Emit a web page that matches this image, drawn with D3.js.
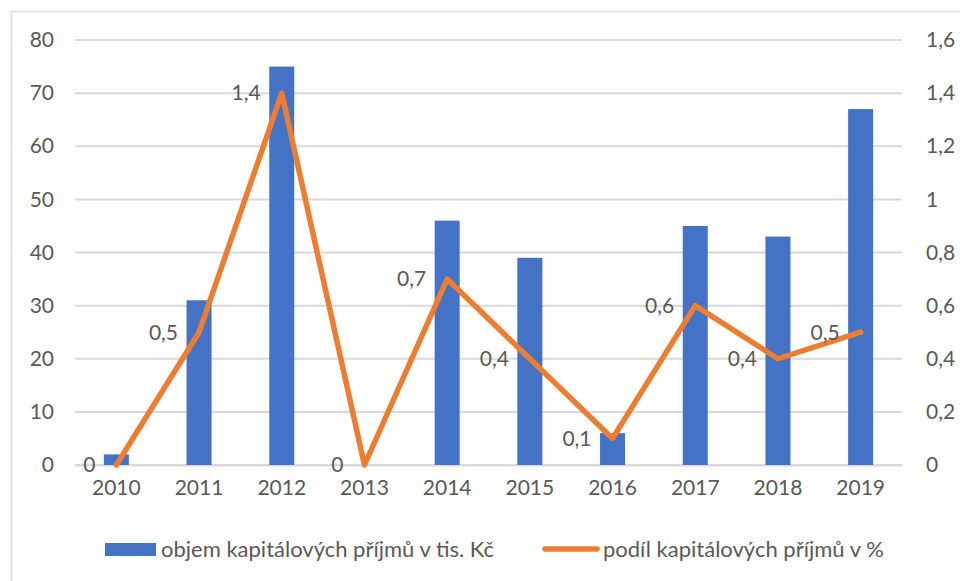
<!DOCTYPE html>
<html>
<head>
<meta charset="utf-8">
<script src="https://cdn.jsdelivr.net/npm/d3@7"></script>
<style>
  body { margin: 0; background: #fff; }
  svg text { font-family: Lato, "Open Sans", sans-serif; fill: #595959; }
</style>
</head>
<body>
<svg id="chart" width="960" height="581"></svg>
<script>
const years = ["2010", "2011", "2012", "2013", "2014", "2015", "2016", "2017", "2018", "2019"]
const volume = [2, 31, 75, 0, 46, 39, 6, 45, 43, 67]
const share = [0, 0.5, 1.4, 0, 0.7, 0.4, 0.1, 0.6, 0.4, 0.5]
const leftTicks = [0, 10, 20, 30, 40, 50, 60, 70, 80]
const rightTicks = [0, 0.2, 0.4, 0.6, 0.8, 1, 1.2, 1.4, 1.6]
const seriesNames = ["objem kapitálových příjmů v tis. Kč", "podíl kapitálových příjmů v %"]

const blue = "#4472C4",
      orange = "#ED7D31",
      grid = "#d9d9d9"

const svg = d3.select("#chart")

const margin = { left: 75, right: 58, top: 40, bottom: 116 }
const width = +svg.attr("width"),
      height = +svg.attr("height")

const fmt = d => String(d).replace(".", ",")

// frame (cut off by the screenshot at right and bottom)
svg.append("rect")
    .attr("x", 11.5).attr("y", 11.5)
    .attr("width", 1000).attr("height", 1000)
    .attr("fill", "none")
    .attr("stroke", grid)
    .attr("stroke-width", 1.5)

const x = d3.scaleBand()
    .domain(years)
    .range([margin.left, width - margin.right])

const yL = d3.scaleLinear().domain([0, 80]).range([height - margin.bottom, margin.top])
const yR = d3.scaleLinear().domain([0, 1.6]).range([height - margin.bottom, margin.top])

// gridlines
svg.append("g")
  .selectAll("line")
  .data(leftTicks)
  .enter().append("line")
    .attr("x1", margin.left)
    .attr("x2", width - margin.right)
    .attr("y1", d => yL(d))
    .attr("y2", d => yL(d))
    .attr("stroke", grid)
    .attr("stroke-width", 2)

// left axis
const axisL = svg.append("g")
    .attr("transform", "translate(" + (margin.left - 21) + ",0)")
    .call(d3.axisLeft(yL).tickValues(leftTicks).tickSize(0).tickPadding(0))
axisL.select(".domain").remove()
axisL.selectAll("text").style("font-size", "21px").attr("fill", "#595959")

// right axis
const axisR = svg.append("g")
    .attr("transform", "translate(" + (width - margin.right + 24) + ",0)")
    .call(d3.axisRight(yR).tickValues(rightTicks).tickFormat(fmt).tickSize(0).tickPadding(0))
axisR.select(".domain").remove()
axisR.selectAll("text").style("font-size", "21px").attr("fill", "#595959")

// bottom axis
const axisB = svg.append("g")
    .attr("transform", "translate(0," + yL(0) + ")")
    .call(d3.axisBottom(x).tickSize(0).tickPadding(15))
axisB.select(".domain")
    .attr("stroke", grid)
    .attr("stroke-width", 2)
axisB.selectAll("text").style("font-size", "21px").attr("fill", "#595959")

// bars
const barW = 25
svg.append("g")
  .selectAll("rect")
  .data(volume)
  .enter().append("rect")
    .attr("x", (d, i) => x(years[i]) + x.bandwidth() / 2 - barW / 2)
    .attr("y", d => yL(d))
    .attr("width", barW)
    .attr("height", d => yL(0) - yL(d))
    .attr("fill", blue)

// line
const line = d3.line()
    .x((d, i) => x(years[i]) + x.bandwidth() / 2)
    .y(d => yR(d))

svg.append("path")
    .datum(share)
    .attr("d", line)
    .attr("fill", "none")
    .attr("stroke", orange)
    .attr("stroke-width", 5.5)
    .attr("stroke-linejoin", "round")
    .attr("stroke-linecap", "round")

// data labels, left of points
svg.append("g")
  .selectAll("text")
  .data(share)
  .enter().append("text")
    .attr("x", (d, i) => x(years[i]) + x.bandwidth() / 2 - 21)
    .attr("y", d => yR(d))
    .attr("dy", "0.35em")
    .attr("text-anchor", "end")
    .style("font-size", "21px")
    .text(fmt)

// legend
const legend = svg.append("g")
legend.append("rect")
    .attr("x", 105).attr("y", 543)
    .attr("width", 51).attr("height", 13)
    .attr("fill", blue)
legend.append("text")
    .attr("x", 161).attr("y", 549)
    .attr("dy", "0.35em")
    .style("font-size", "22px")
    .text(seriesNames[0])
legend.append("line")
    .attr("x1", 545).attr("x2", 597)
    .attr("y1", 549).attr("y2", 549)
    .attr("stroke", orange)
    .attr("stroke-width", 5.5)
    .attr("stroke-linecap", "round")
legend.append("text")
    .attr("x", 603).attr("y", 549)
    .attr("dy", "0.35em")
    .style("font-size", "22px")
    .text(seriesNames[1])
</script>
</body>
</html>
